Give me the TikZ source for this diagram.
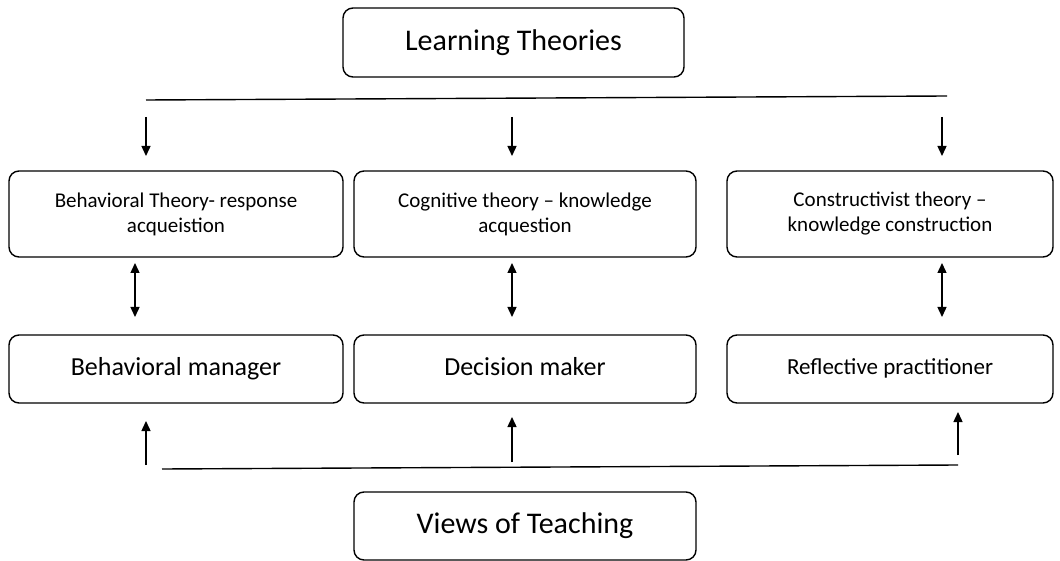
\documentclass[tikz,border=0pt]{standalone}
\usepackage{fontspec}
\setmainfont{Carlito}
\usetikzlibrary{arrows.meta}
\begin{document}
\begin{tikzpicture}[x=1pt,y=-1pt,
  box/.style={draw, line width=1.4pt, rounded corners=10pt, align=center, inner sep=0pt},
  big/.style={font=\fontsize{30}{36}\selectfont},
  mid/.style={font=\fontsize{26}{31}\selectfont},
  midb/.style={font=\fontsize{23}{28}\selectfont},
  small/.style={font=\fontsize{21}{25}\selectfont},
  arr/.style={line width=1.4pt, -{Triangle[length=10pt,width=9pt]}},
  darr/.style={line width=1.4pt, {Triangle[length=10pt,width=9pt]}-{Triangle[length=10pt,width=9pt]}},
  bar/.style={line width=1.4pt}]
\useasboundingbox (0,0) rectangle (1060,561);
\node[box,big,minimum width=341pt,minimum height=69pt] (lt) at (513.5,42.5) {Learning Theories\vphantom{g}};
\node[box,small,minimum width=334pt,minimum height=86pt] (bt) at (176,214) {Behavioral Theory- response\\acqueistion};
\node[box,small,minimum width=342pt,minimum height=86pt] (ct) at (525,214) {Cognitive theory -- knowledge\\acquestion};
\node[box,small,minimum width=326pt,minimum height=86pt] (kt) at (890,214) {Constructivist theory --\\knowledge construction};
\node[box,mid,minimum width=334pt,minimum height=68pt] (bm) at (176,369) {Behavioral manager};
\node[box,mid,minimum width=342pt,minimum height=68pt] (dm) at (525,369) {Decision maker\vphantom{g}};
\node[box,midb,minimum width=326pt,minimum height=68pt] (rp) at (890,369) {Reflective practitioner\vphantom{g}};
\node[box,big,minimum width=342pt,minimum height=68pt] (vt) at (525,526) {Views of Teaching};
% top bar and down arrows
\coordinate (tl) at (146,100); \coordinate (tr) at (947,96);
\draw[bar] (tl) -- (tr);
\coordinate (a1) at (146,117); \coordinate (b1) at (146,156);
\coordinate (a2) at (512,117); \coordinate (b2) at (512,156);
\coordinate (a3) at (942,117); \coordinate (b3) at (942,156);
\draw[arr] (a1) -- (b1);
\draw[arr] (a2) -- (b2);
\draw[arr] (a3) -- (b3);
% double arrows
\coordinate (c1) at (135,263); \coordinate (e1) at (135,317);
\coordinate (c2) at (512,263); \coordinate (e2) at (512,317);
\coordinate (c3) at (942,263); \coordinate (e3) at (942,317);
\draw[darr] (c1) -- (e1);
\draw[darr] (c2) -- (e2);
\draw[darr] (c3) -- (e3);
% bottom bar and up arrows
\coordinate (bl) at (162,469); \coordinate (br) at (958,465);
\draw[bar] (bl) -- (br);
\coordinate (u1) at (146,465); \coordinate (v1) at (146,421);
\coordinate (u2) at (512,462); \coordinate (v2) at (512,417);
\coordinate (u3) at (958,455); \coordinate (v3) at (958,412);
\draw[arr] (u1) -- (v1);
\draw[arr] (u2) -- (v2);
\draw[arr] (u3) -- (v3);
\end{tikzpicture}
\end{document}
